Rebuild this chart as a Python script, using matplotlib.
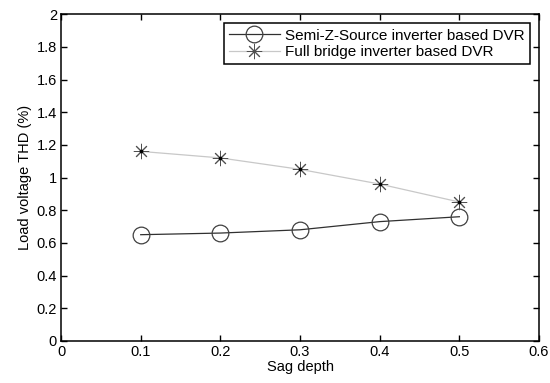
import matplotlib
matplotlib.use("Agg")
import matplotlib.pyplot as plt

plt.rcParams['font.family'] = ['Liberation Sans', 'DejaVu Sans']

# Data
sag_depth = [0.1, 0.2, 0.3, 0.4, 0.5]
thd_semi_z = [0.65, 0.66, 0.68, 0.73, 0.76]
thd_full_bridge = [1.16, 1.12, 1.05, 0.96, 0.85]

x_ticks = [0, 0.1, 0.2, 0.3, 0.4, 0.5, 0.6]
y_ticks = [0, 0.2, 0.4, 0.6, 0.8, 1, 1.2, 1.4, 1.6, 1.8, 2]

fig = plt.figure(figsize=(5.5, 3.83), dpi=100)
ax = fig.add_axes([0.111, 0.11, 0.869, 0.853])

ax.plot(sag_depth, thd_semi_z, color='#303030', lw=0.9, marker='o',
        markersize=12, markerfacecolor='none', markeredgecolor='#404040',
        markeredgewidth=0.9, label='Semi-Z-Source inverter based DVR')
ax.plot(sag_depth, thd_full_bridge, color='#c8c8c8', lw=0.9, marker=(8, 2, 0),
        markersize=11, markeredgecolor='#505050', markeredgewidth=0.7,
        label='Full bridge inverter based DVR')
ax.plot(sag_depth, thd_full_bridge, ls='none', marker='s', markersize=2,
        color='black')

ax.set_xlim(0, 0.6)
ax.set_ylim(0, 2)
ax.set_xticks(x_ticks)
ax.set_xticklabels(['0', '0.1', '0.2', '0.3', '0.4', '0.5', '0.6'])
ax.set_yticks(y_ticks)
ax.set_yticklabels(['0', '0.2', '0.4', '0.6', '0.8', '1', '1.2', '1.4', '1.6', '1.8', '2'])
ax.tick_params(direction='in', top=True, right=True, length=4, width=1,
               labelsize=10.5, pad=3)
for s in ax.spines.values():
    s.set_linewidth(1.1)

ax.set_xlabel('Sag depth', fontsize=10.5, labelpad=1)
ax.set_ylabel('Load voltage THD (%)', fontsize=10.5, labelpad=3)

leg = ax.legend(loc='upper right', fontsize=11, fancybox=False, framealpha=1,
                edgecolor='black', borderpad=0.35, labelspacing=0.15,
                handlelength=3.3, handletextpad=0.35, borderaxespad=0.6)
leg.get_frame().set_linewidth(1.1)

fig.savefig('out.png', dpi=100)
